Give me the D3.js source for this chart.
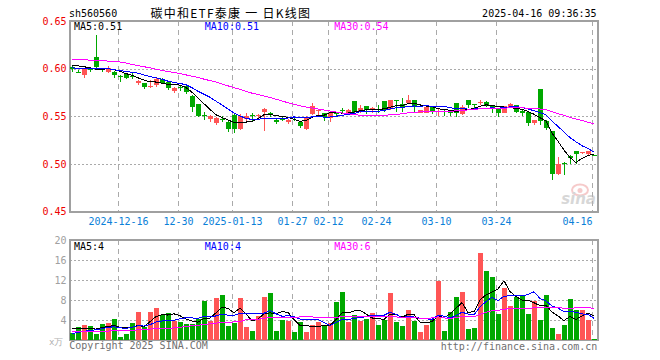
<!DOCTYPE html>
<html><head><meta charset="utf-8">
<script src="https://cdn.jsdelivr.net/npm/d3@7"></script>
<style>
body{margin:0;background:#fff}
svg{display:block}
text{font-family:"DejaVu Sans Mono",monospace;font-size:10px}
</style>
</head><body><svg id="c" width="660" height="360"></svg>
<script>
const dates = ["2024-12-04","2024-12-05","2024-12-06","2024-12-09","2024-12-10","2024-12-11","2024-12-12","2024-12-13","2024-12-16","2024-12-17","2024-12-18","2024-12-19","2024-12-20","2024-12-23","2024-12-24","2024-12-25","2024-12-26","2024-12-27","2024-12-30","2024-12-31",
"2025-01-02","2025-01-03","2025-01-06","2025-01-07","2025-01-08","2025-01-09","2025-01-10","2025-01-13","2025-01-14","2025-01-15","2025-01-16","2025-01-17","2025-01-20","2025-01-21","2025-01-22","2025-01-23","2025-01-24","2025-01-27",
"2025-02-05","2025-02-06","2025-02-07","2025-02-10","2025-02-11","2025-02-12","2025-02-13","2025-02-14","2025-02-17","2025-02-18","2025-02-19","2025-02-20","2025-02-21","2025-02-24","2025-02-25","2025-02-26","2025-02-27","2025-02-28",
"2025-03-03","2025-03-04","2025-03-05","2025-03-06","2025-03-07","2025-03-10","2025-03-11","2025-03-12","2025-03-13","2025-03-14","2025-03-17","2025-03-18","2025-03-19","2025-03-20","2025-03-21","2025-03-24","2025-03-25","2025-03-26","2025-03-27","2025-03-28","2025-03-31",
"2025-04-01","2025-04-02","2025-04-03","2025-04-07","2025-04-08","2025-04-09","2025-04-10","2025-04-11","2025-04-14","2025-04-15","2025-04-16"];

const open  = [0.602,0.597,0.593,0.601,0.612,0.600,0.596,0.597,0.592,0.594,0.592,0.585,0.585,0.581,0.583,0.589,0.586,0.577,0.581,0.582,
0.571,0.563,0.551,0.547,0.543,0.547,0.544,0.551,0.537,0.547,0.551,0.550,0.555,0.554,0.546,0.548,0.544,0.549,
0.544,0.537,0.552,0.556,0.553,0.548,0.553,0.557,0.553,0.566,0.555,0.561,0.557,0.558,0.566,0.558,0.567,0.563,
0.564,0.567,0.554,0.554,0.560,0.555,0.558,0.556,0.564,0.552,0.567,0.563,0.564,0.565,0.561,0.558,0.554,0.560,0.562,0.556,0.555,
0.543,0.579,0.545,0.535,0.490,0.501,0.508,0.514,0.512,0.511,0.509];
const high  = [0.603,0.599,0.601,0.602,0.635,0.601,0.603,0.598,0.593,0.595,0.595,0.588,0.585,0.588,0.590,0.590,0.587,0.581,0.583,0.583,
0.572,0.563,0.555,0.551,0.549,0.550,0.545,0.552,0.552,0.553,0.554,0.552,0.559,0.555,0.548,0.550,0.547,0.550,
0.545,0.550,0.564,0.558,0.554,0.554,0.555,0.559,0.558,0.566,0.562,0.561,0.560,0.562,0.566,0.567,0.567,0.569,
0.572,0.567,0.557,0.561,0.560,0.558,0.558,0.557,0.564,0.562,0.567,0.563,0.567,0.566,0.562,0.559,0.561,0.564,0.562,0.557,0.555,
0.546,0.579,0.546,0.535,0.507,0.502,0.509,0.514,0.513,0.514,0.509];
const low   = [0.597,0.595,0.590,0.597,0.601,0.596,0.595,0.590,0.586,0.589,0.589,0.583,0.579,0.580,0.581,0.584,0.578,0.575,0.577,0.573,
0.555,0.549,0.546,0.544,0.541,0.544,0.534,0.533,0.536,0.545,0.544,0.547,0.535,0.549,0.542,0.545,0.542,0.545,
0.538,0.536,0.551,0.551,0.545,0.544,0.550,0.553,0.552,0.552,0.553,0.552,0.553,0.553,0.555,0.557,0.555,0.555,
0.564,0.555,0.554,0.553,0.552,0.550,0.550,0.550,0.549,0.551,0.559,0.559,0.562,0.560,0.553,0.549,0.553,0.559,0.554,0.550,0.540,
0.541,0.541,0.536,0.483,0.489,0.489,0.500,0.500,0.511,0.508,0.508];
const close = [0.600,0.596,0.600,0.599,0.602,0.599,0.601,0.593,0.591,0.590,0.591,0.587,0.581,0.582,0.589,0.585,0.580,0.580,0.580,0.576,
0.560,0.550,0.550,0.550,0.548,0.546,0.537,0.537,0.550,0.550,0.550,0.551,0.558,0.551,0.544,0.546,0.546,0.548,
0.540,0.549,0.561,0.557,0.549,0.553,0.552,0.556,0.557,0.555,0.559,0.557,0.559,0.557,0.557,0.567,0.566,0.559,
0.567,0.561,0.557,0.560,0.556,0.556,0.557,0.553,0.554,0.560,0.562,0.562,0.565,0.561,0.558,0.554,0.561,0.563,0.555,0.554,0.543,
0.546,0.545,0.538,0.490,0.500,0.500,0.506,0.511,0.513,0.514,0.508];
const volume = [1.53,2.6,3.0,2.8,1.27,3.2,3.47,4.2,0.6,1.27,3.47,5.6,2.67,5.6,6.47,5.13,5.4,3.87,3.67,3.2,
3.2,4.2,7.8,3.8,8.47,9.0,2.87,3.47,8.47,2.67,1.8,4.87,8.67,9.4,1.8,4.07,3.87,1.6,
3.67,1.6,3.07,3.67,3.07,3.47,7.6,9.6,3.67,5.07,3.87,4.2,5.53,3.07,4.07,9.4,3.67,2.87,
6.0,3.87,1.6,3.07,4.07,11.87,1.8,5.67,8.67,9.6,2.2,2.4,17.47,13.8,12.6,5.2,10.4,6.87,8.67,9.0,5.2,
7.8,4.0,9.0,2.4,1.2,3.07,8.2,6.0,6.0,4.0,0.2];

// moving-average values before a full window exists
const ma5Lead  = [0.603,0.603,0.602,0.601];
const ma10Lead = [0.601,0.600,0.600,0.600,0.600,0.600,0.600,0.599,0.598];
const ma30Lead = [0.610,0.6097,0.6093,0.609,0.6087,0.6083,0.608,0.6075,0.607,0.606,0.6045,0.6033,0.602,0.601,0.5995,0.598,0.597,0.596,0.595,0.5935,0.592,0.591,0.589,0.5875,0.586,0.584,0.582,0.580,0.5785];
const volMa5Lead  = [2.33,2.33,2.33,2.33];
const volMa10Lead = [1.33,1.6,1.8,1.95,2.1,2.3,2.6,2.7,2.5];
const volMa30Lead = [1.67,1.7,1.72,1.75,1.78,1.8,1.85,1.9,1.95,2.0,2.0,2.1,2.2,2.25,2.3,2.35,2.4,2.47,2.6,2.75,2.9,3.0,3.15,3.3,3.45,3.5,3.6,3.67,3.75];

const tickDates  = ["2024-12-16","2024-12-30","2025-01-13","2025-01-27","2025-02-12","2025-02-24","2025-03-10","2025-03-24","2025-04-16"];
const tickLabels = ["2024-12-16","12-30","2025-01-13","01-27","02-12","02-24","03-10","03-24","04-16"];
const priceTicks = [0.65,0.60,0.55,0.50,0.45];
const volTicks   = [20,16,12,8,4];
const priceMaLabels = ["0.51","0.51","0.54"];
const volMaLabels   = ["4","4","6"];
const maNames = ["MA5","MA10","MA30"];

const RED="#ff5555", GREEN="#00a800", GRID="#aaaaaa", FRAME="#a0a0a0";
const maColors = ["#000000","#0000ff","#ff00ff"];

const svg = d3.select("#c");
const L=70, R=598;
const x = d3.scalePoint().domain(dates).range([72,594]);
const y = d3.scaleLinear().domain([0.45,0.65]).range([211.7,21]);
const yv = d3.scaleLinear().domain([0,20]).range([340.3,240.3]);

function movAvg(arr, n, lead){
  return arr.map((v,i)=> i < n-1 ? lead[i] : d3.mean(arr.slice(i-n+1,i+1)));
}
const pMA = [movAvg(close,5,ma5Lead), movAvg(close,10,ma10Lead), movAvg(close,30,ma30Lead)];
const vMA = [movAvg(volume,5,volMa5Lead), movAvg(volume,10,volMa10Lead), movAvg(volume,30,volMa30Lead)];

// header
svg.append("text").attr("x",69).attr("y",17).attr("fill","#000").text("sh560560");
svg.append("text").attr("x",150.5).attr("y",17.5).attr("fill","#000")
  .style("font-family","'Noto Sans CJK SC',sans-serif").style("font-size","12px")
  .attr("textLength",159.5).attr("lengthAdjust","spacing").text("碳中和ETF泰康 一 日K线图");
svg.append("text").attr("x",596.5).attr("y",17).attr("text-anchor","end").attr("fill","#000").text("2025-04-16 09:36:35");

function panel(top, bottom, yScale, ticks, tickFmt, tickColor, gridTicks){
  const g = svg.append("g");
  g.selectAll("line.h").data(gridTicks).join("line")
    .attr("x1",L).attr("x2",R)
    .attr("y1",d=>Math.round(yScale(d))+0.5).attr("y2",d=>Math.round(yScale(d))+0.5)
    .attr("stroke",GRID).attr("stroke-dasharray","2,2").attr("shape-rendering","crispEdges");
  g.selectAll("line.v").data(tickDates).join("line")
    .attr("x1",d=>Math.round(x(d))-1.5).attr("x2",d=>Math.round(x(d))-1.5)
    .attr("y1",top).attr("y2",bottom)
    .attr("stroke",GRID).attr("stroke-dasharray","5,4").attr("shape-rendering","crispEdges");
  g.append("rect").attr("x",L).attr("y",top).attr("width",R-L).attr("height",bottom-top)
    .attr("fill","none").attr("stroke",FRAME).attr("stroke-width",2).attr("shape-rendering","crispEdges");
  g.selectAll("text.yl").data(ticks).join("text")
    .attr("x",66.5).attr("y",d=>yScale(d)).attr("dy","0.36em").attr("text-anchor","end")
    .attr("fill",tickColor).text(tickFmt);
  return g;
}

panel(21,211.7,y,priceTicks,d=>d.toFixed(2),"#ee0000",[0.60,0.55,0.50]);
panel(240.3,340.3,yv,volTicks,d=>String(d),"#a0a0a0",[16,12,8,4]);

// x labels
svg.selectAll("text.xl").data(tickDates).join("text")
  .attr("y",225).attr("fill","#0a80d8")
  .each(function(d,i){
    const cx = Math.round(x(d))-1.5;
    const t = d3.select(this).text(tickLabels[i]);
    const w = tickLabels[i].length*6.02;
    t.attr("x",cx).attr("text-anchor", cx + w/2 > R ? "end" : "middle");
  });

// watermark
const wm = svg.append("g").attr("opacity",0.55);
wm.append("ellipse").attr("cx",580).attr("cy",190).attr("rx",8).attr("ry",5.5).attr("fill","none").attr("stroke","#f0a0a0").attr("stroke-width",2);
wm.append("circle").attr("cx",580).attr("cy",190.5).attr("r",2.5).attr("fill","#f0a0a0");
wm.append("text").attr("x",596).attr("y",204).attr("text-anchor","end")
  .style("font-family","'DejaVu Sans',sans-serif").style("font-size","15px").style("font-style","italic").style("font-weight","bold")
  .attr("fill","#b8b8b8").text("sina");

// candles
const idx = d3.range(dates.length);
const isUp = i => close[i] > open[i];
const cg = svg.append("g").attr("shape-rendering","crispEdges");
cg.selectAll("line.w").data(idx).join("line")
  .attr("x1",i=>Math.round(x(dates[i]))+0.5).attr("x2",i=>Math.round(x(dates[i]))+0.5)
  .attr("y1",i=>y(high[i])).attr("y2",i=>y(low[i]))
  .attr("stroke",i=>isUp(i)?RED:GREEN);
cg.selectAll("rect.b").data(idx).join("rect")
  .attr("x",i=>Math.round(x(dates[i]))-2).attr("width",5)
  .attr("y",i=>Math.min(y(open[i]),y(close[i])))
  .attr("height",i=>Math.max(1,Math.abs(y(open[i])-y(close[i]))))
  .attr("fill",i=>isUp(i)?RED:GREEN);

// price MAs
pMA.forEach((arr,k)=>{
  svg.append("path").datum(arr)
    .attr("d",d3.line().x((d,i)=>x(dates[i])).y(d=>y(d)))
    .attr("fill","none").attr("stroke",maColors[k]).attr("stroke-width",1).attr("shape-rendering","crispEdges");
});

// volume bars
const vg = svg.append("g").attr("shape-rendering","crispEdges");
vg.selectAll("rect").data(idx).join("rect")
  .attr("x",i=>Math.round(x(dates[i]))-2).attr("width",5)
  .attr("y",i=>yv(volume[i])).attr("height",i=>yv(0)-yv(volume[i]))
  .attr("fill",i=>isUp(i)?RED:GREEN);
vMA.forEach((arr,k)=>{
  svg.append("path").datum(arr)
    .attr("d",d3.line().x((d,i)=>x(dates[i])).y(d=>yv(d)))
    .attr("fill","none").attr("stroke",maColors[k]).attr("stroke-width",1).attr("shape-rendering","crispEdges");
});

// MA legends
const legX = [74,204.8,334.3];
maNames.forEach((n,k)=>{
  svg.append("text").attr("x",legX[k]).attr("y",30).attr("fill",maColors[k]).text(n+":"+priceMaLabels[k]);
  svg.append("text").attr("x",legX[k]).attr("y",250).attr("fill",maColors[k]).text(n+":"+volMaLabels[k]);
});

// footer
svg.append("text").attr("x",49).attr("y",345).attr("fill","#b0b0b0").style("font-size","9px").text("x万");
svg.append("text").attr("x",69.3).attr("y",349).attr("fill","#707070").text("Copyright 2025 SINA.COM");
svg.append("text").attr("x",597.3).attr("y",349.5).attr("text-anchor","end").attr("fill","#707070").text("http://finance.sina.com.cn");
</script></body></html>
